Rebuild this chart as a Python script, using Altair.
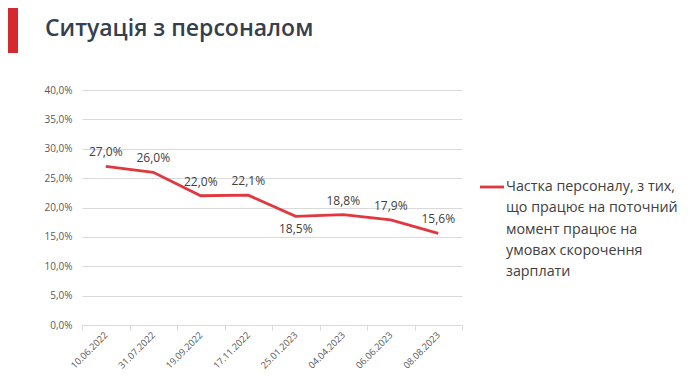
import altair as alt
import pandas as pd

dates = ["10.06.2022", "31.07.2022", "19.09.2022", "17.11.2022",
         "25.01.2023", "04.04.2023", "06.06.2023", "08.08.2023"]
values = [27.0, 26.0, 22.0, 22.1, 18.5, 18.8, 17.9, 15.6]
label_pos = ["above", "above", "above", "above", "below", "above", "above", "above"]
y_ticks = [0, 5, 10, 15, 20, 25, 30, 35, 40]
title_text = "Ситуація з персоналом"
legend_lines = ["Частка персоналу, з тих,", "що працює на поточний",
                "момент працює на", "умовах скорочення", "зарплати"]

RED = "#E0383E"
FONT = "Open Sans"

df = pd.DataFrame({
    "date": dates,
    "value": values,
    "pos": label_pos,
    "label": [f"{v:.1f}%".replace(".", ",") for v in values],
})

x_enc = alt.X(
    "date:N", sort=dates, bandPosition=0.5,
    scale=alt.Scale(type="band", paddingInner=0, paddingOuter=0),
    axis=alt.Axis(title=None, labelAngle=-45, tickBand="extent", grid=False,
                  domainColor="#d9d9d9", tickColor="#d9d9d9", tickSize=5,
                  labelFont=FONT, labelFontSize=9.3, labelColor="#595959",
                  labelPadding=3, labelAlign="right", labelBaseline="middle"),
)
y_enc = alt.Y(
    "value:Q", scale=alt.Scale(domain=[0, 40], nice=False, zero=True),
    axis=alt.Axis(title=None, values=y_ticks, domain=False, ticks=False,
                  gridColor="#d9d9d9", labelFont=FONT, labelFontSize=10,
                  labelColor="#595959", labelPadding=10, labelOverlap=False,
                  labelExpr="replace(format(datum.value, '.1f'), '.', ',') + '%'"),
)

base = alt.Chart(df).encode(x=x_enc, y=y_enc)
line = base.mark_line(color=RED, strokeWidth=2.8)
lab_above = base.mark_text(font=FONT, fontSize=12, color="#404040", dy=-14).encode(
    text="label:N").transform_filter(alt.datum.pos == "above")
lab_below = base.mark_text(font=FONT, fontSize=12, color="#404040", dy=13).encode(
    text="label:N").transform_filter(alt.datum.pos == "below")

one = pd.DataFrame({"k": [0]})
title = alt.Chart(one).mark_text(font=FONT, fontSize=23, fontWeight=600, color="#35404F",
                                 align="left", baseline="alphabetic").encode(
    x=alt.value(-37), y=alt.value(-54), text=alt.value(title_text))
bar = alt.Chart(one).mark_rect(color="#D42A2F").encode(
    x=alt.value(-74), x2=alt.value(-64), y=alt.value(-82), y2=alt.value(-37))
leg_line = alt.Chart(one).mark_rule(color=RED, strokeWidth=2.8).encode(
    x=alt.value(398), x2=alt.value(422), y=alt.value(97))
leg_text = alt.Chart(one).mark_text(font=FONT, fontSize=14.3, color="#404040", align="left",
                                    baseline="middle", lineHeight=21.3).encode(
    x=alt.value(424), y=alt.value(97), text=alt.value(legend_lines))

chart = alt.layer(line, lab_above, lab_below, title, bar, leg_line, leg_text).properties(
    width=380, height=235, autosize="none",
    padding={"left": 74, "top": 82, "right": 220, "bottom": 46},
).configure(background="white").configure_view(stroke=None, strokeWidth=0)

chart.save("out.html", embed_options={"renderer": "svg", "actions": False})
